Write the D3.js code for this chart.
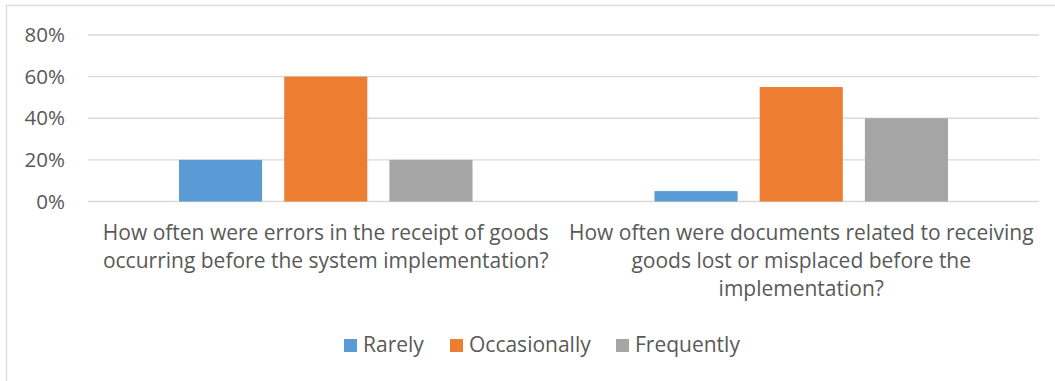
<!DOCTYPE html>
<html>
<head>
<meta charset="utf-8">
<script src="https://cdn.jsdelivr.net/npm/d3@7"></script>
<style>
  body { margin: 0; background: #fff; }
  text { font-family: "Open Sans", sans-serif; fill: #595959; }
</style>
</head>
<body>
<div id="chart"></div>
<script>
// data
var categories = ["q1", "q2"];
var categoryLines = [
    ["How often were errors in the receipt of goods", "occurring before the system implementation?"],
    ["How often were documents related to receiving", "goods lost or misplaced before the", "implementation?"]
];
var seriesNames = ["Rarely", "Occasionally", "Frequently"];
var seriesColors = ["#5B9BD5", "#ED7D31", "#A5A5A5"];
var rarely = [0.20, 0.05];
var occasionally = [0.60, 0.55];
var frequently = [0.20, 0.40];
var yTicks = [0, 0.2, 0.4, 0.6, 0.8];

var seriesValues = [rarely, occasionally, frequently];

var w = 1055, h = 381;
var plotLeft = 88, plotRight = 1039, plotTop = 35, plotBottom = 201.5;

var svg = d3.select("#chart").append("svg")
    .attr("width", w)
    .attr("height", h);

// chart area border (right and bottom run off the picture)
svg.append("rect")
    .attr("x", 6.5).attr("y", 5.5)
    .attr("width", w + 10).attr("height", h + 10)
    .attr("fill", "none")
    .attr("stroke", "#d9d9d9")
    .attr("stroke-width", 1.3);

var y = d3.scaleLinear().domain([0, 0.8]).range([plotBottom, plotTop]);
var x0 = d3.scaleBand().domain(categories).range([plotLeft, plotRight]);
var bw = x0.bandwidth();
var x1 = d3.scaleBand().domain(seriesNames).range([91, bw - 91]).paddingInner(0.21);

// gridlines
svg.append("g")
    .selectAll("line")
    .data(yTicks)
    .enter()
    .append("line")
    .attr("x1", plotLeft).attr("x2", plotRight)
    .attr("y1", function(d) { return y(d); })
    .attr("y2", function(d) { return y(d); })
    .attr("stroke", "#d9d9d9")
    .attr("stroke-width", 1.3);

// y axis labels, using d3.axisLeft but with line + domain hidden
var yAxis = svg.append("g")
    .attr("transform", "translate(" + (plotLeft - 23) + ",0)")
    .call(d3.axisLeft(y).tickValues(yTicks).tickSize(0).tickPadding(0).tickFormat(d3.format(".0%")));
yAxis.select(".domain").remove();
yAxis.selectAll("text")
    .style("font-family", "'Open Sans', sans-serif")
    .style("font-size", "20.5px")
    .attr("fill", "#595959");

// bars
var groups = svg.selectAll("g.cat")
    .data(categories)
    .enter()
    .append("g")
    .attr("class", "cat")
    .attr("transform", function(d) { return "translate(" + x0(d) + ",0)"; });

groups.selectAll("rect")
    .data(function(d, ci) {
        return seriesNames.map(function(s, si) {
            return { name: s, value: seriesValues[si][ci], color: seriesColors[si] };
        });
    })
    .enter()
    .append("rect")
    .attr("x", function(d) { return x1(d.name); })
    .attr("width", x1.bandwidth())
    .attr("y", function(d) { return y(d.value); })
    .attr("height", function(d) { return plotBottom - y(d.value); })
    .attr("fill", function(d) { return d.color; });

// category labels, wrapped as in the original
var catLabels = svg.selectAll("text.cat")
    .data(categories)
    .enter()
    .append("text")
    .attr("class", "cat")
    .attr("text-anchor", "middle")
    .style("font-size", "21px");

catLabels.each(function(d, i) {
    var t = d3.select(this);
    categoryLines[i].forEach(function(line, li) {
        t.append("tspan")
            .attr("x", x0(d) + bw / 2)
            .attr("y", 240 + li * 28)
            .text(line);
    });
});

// legend
var legendX = [344, 450, 616];
var legend = svg.selectAll(".legend")
    .data(seriesNames)
    .enter()
    .append("g")
    .attr("class", "legend")
    .attr("transform", function(d, i) { return "translate(" + legendX[i] + ",339)"; });

legend.append("rect")
    .attr("width", 13)
    .attr("height", 13)
    .attr("fill", function(d, i) { return seriesColors[i]; });

legend.append("text")
    .attr("x", 19)
    .attr("y", 12.5)
    .style("font-size", "21px")
    .text(function(d) { return d; });
</script>
</body>
</html>
